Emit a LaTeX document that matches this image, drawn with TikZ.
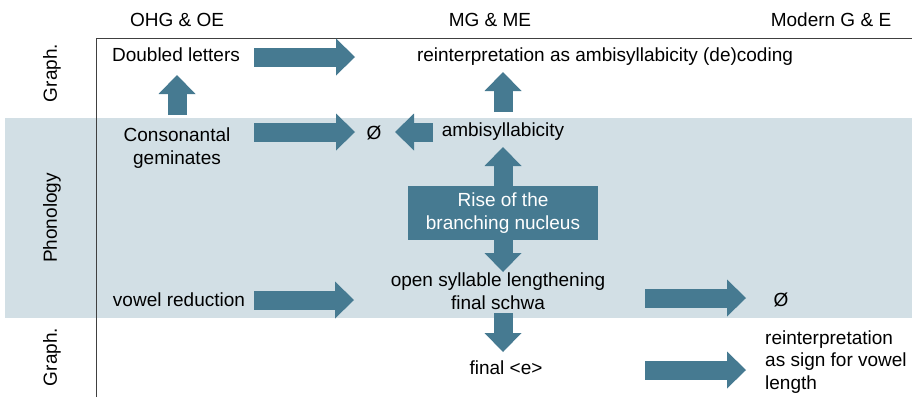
\documentclass[tikz,border=0pt]{standalone}
\usepackage{fontspec}
\setmainfont{Liberation Sans}
\usetikzlibrary{arrows.meta}
\definecolor{arrowblue}{RGB}{70,122,145}
\definecolor{bandblue}{RGB}{210,223,229}
\begin{document}
\begin{tikzpicture}[x=1pt,y=-1pt,
  txt/.style={font=\fontsize{19}{22.5}\selectfont, align=center, inner sep=0pt},
  rowlabel/.style={txt, rotate=90},
  fat/.style={draw=arrowblue, line width=19pt, -{Triangle[width=37pt,length=19pt,line width=0pt]}},
  risebox/.style={txt, fill=arrowblue, text=white, minimum width=190pt, minimum height=54pt}]
\useasboundingbox (0,0) rectangle (915,397);
% background band and axes
\fill[bandblue] (5,118) rectangle (912,318);
\draw[line width=1pt, black!75] (96,397) -- (96,38) -- (912,38);
% headers
\node[txt] (h1) at (177,20) {OHG \& OE};
\node[txt] (h2) at (490,20) {MG \& ME};
\node[txt] (h3) at (831,20) {Modern G \& E};
% row labels
\node[rowlabel] (r1) at (52,73) {Graph.};
\node[rowlabel] (r2) at (52,218) {Phonology};
\node[rowlabel] (r3) at (52,357) {Graph.};
% text nodes
\node[txt] (dl) at (176,55) {Doubled letters};
\node[txt] (reamb) at (605,57) {reinterpretation as ambisyllabicity (de)coding};
\node[txt] (cg) at (177,148) {Consonantal\\geminates};
\node[txt] (z1) at (374,133) {Ø};
\node[txt] (amb) at (503,132) {ambisyllabicity};
\node[risebox] (rise) at (503,213) {Rise of the\\branching nucleus};
\node[txt] (osl) at (498,291) {open syllable lengthening\\final schwa};
\node[txt] (vr) at (179,300) {vowel reduction};
\node[txt] (z2) at (781,300) {Ø};
\node[txt] (fe) at (506,368) {final <e>};
\node[txt, anchor=west, align=left] (rsv) at (765,362) {reinterpretation\\as sign for vowel\\length};
% connector endpoints
\coordinate (a1s) at (254,57);  \coordinate (a1e) at (355,57);
\coordinate (a2s) at (177,115); \coordinate (a2e) at (177,75);
\coordinate (a3s) at (254,132); \coordinate (a3e) at (355,132);
\coordinate (a4s) at (433,132); \coordinate (a4e) at (395,132);
\coordinate (a5s) at (503,112); \coordinate (a5e) at (503,72);
\coordinate (a6e) at (503,147);
\coordinate (a7e) at (503,272);
\coordinate (a8s) at (254,300); \coordinate (a8e) at (354,300);
\coordinate (a9s) at (645,298); \coordinate (a9e) at (746,298);
\coordinate (a10s) at (503,313); \coordinate (a10e) at (503,352);
\coordinate (a11s) at (645,370); \coordinate (a11e) at (746,370);
% connectors
\draw[fat] (a1s) -- (a1e);
\draw[fat] (a2s) -- (a2e);
\draw[fat] (a3s) -- (a3e);
\draw[fat] (a4s) -- (a4e);
\draw[fat] (a5s) -- (a5e);
\draw[fat] (rise.north) -- (a6e);
\draw[fat] (rise.south) -- (a7e);
\draw[fat] (a8s) -- (a8e);
\draw[fat] (a9s) -- (a9e);
\draw[fat] (a10s) -- (a10e);
\draw[fat] (a11s) -- (a11e);
\end{tikzpicture}
\end{document}
